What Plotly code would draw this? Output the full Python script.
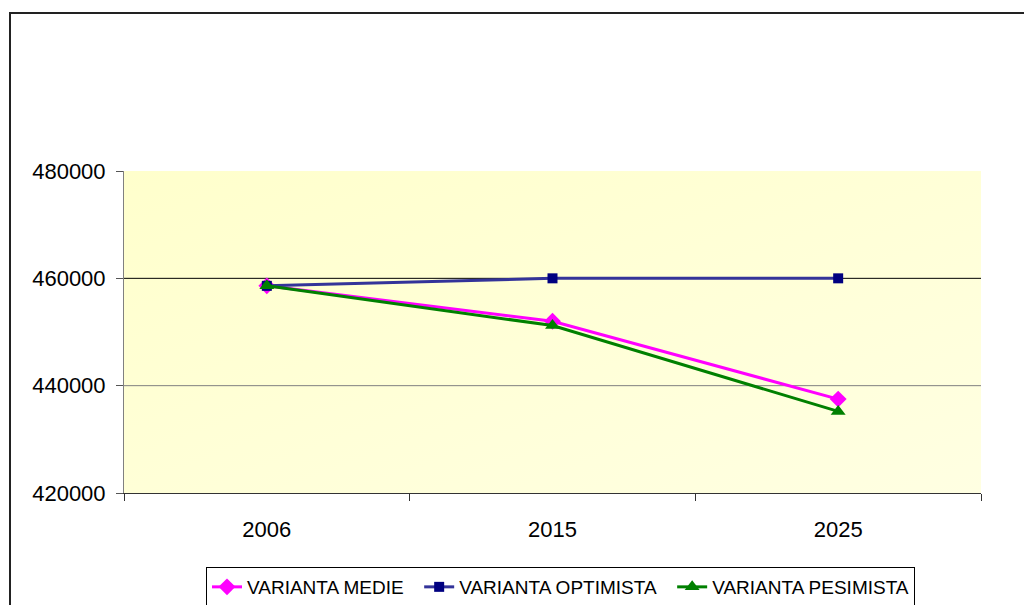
import base64
import plotly.graph_objects as go

years = ["2006", "2015", "2025"]
medie = [458600, 452000, 437500]
optimista = [458600, 460000, 460000]
pesimista = [458600, 451200, 435200]
y_ticks = [420000, 440000, 460000, 480000]
grid_values = [440000, 460000]
series_names = ["VARIANTA MEDIE", "VARIANTA OPTIMISTA", "VARIANTA PESIMISTA"]

OFF = 8  # default body margin of the html page
W, H = 1032 - OFF, 605 - OFF
L, T = 124 - OFF, 171 - OFF
R = W - (981 - OFF)
B = H - (493 - OFF)
pw, ph = W - L - R, H - T - B

def px_x(p):
    return (p - OFF - L) / pw

def px_y(q):
    return (H - B - (q - OFF)) / ph

NB = "\u00a0\u00a0"  # small padding between legend entries

fig = go.Figure()
fig.add_trace(go.Scatter(x=years, y=medie, name=series_names[0] + NB, mode="lines+markers",
                         line=dict(color="#FF00FF", width=3),
                         marker=dict(symbol="diamond", size=13, color="#FF00FF")))
fig.add_trace(go.Scatter(x=years, y=optimista, name=series_names[1] + NB, mode="lines+markers",
                         line=dict(color="#333399", width=3),
                         marker=dict(symbol="square", size=10, color="#000080")))
fig.add_trace(go.Scatter(x=years, y=pesimista, name=series_names[2], mode="lines+markers",
                         line=dict(color="#008000", width=3),
                         marker=dict(symbol="triangle-up", size=13, color="#008000")))

for g, c in zip(grid_values, ["#808080", "#000000"]):
    fig.add_shape(type="line", xref="paper", yref="y", x0=0, x1=1, y0=g, y1=g,
                  line=dict(color=c, width=1), layer="below")

# outer chart border
fig.add_shape(type="rect", xref="paper", yref="paper",
              x0=px_x(10), x1=px_x(1045), y0=px_y(640), y1=px_y(13),
              line=dict(color="#222222", width=2))

# soft yellow gradient for the plot area background
svg = ('<svg xmlns="http://www.w3.org/2000/svg" width="100" height="100" preserveAspectRatio="none">'
       '<defs><linearGradient id="g" x1="0" y1="0" x2="1" y2="1">'
       '<stop offset="0" stop-color="#FFFFCC"/><stop offset="1" stop-color="#FFFFE2"/>'
       '</linearGradient></defs><rect width="100" height="100" fill="url(#g)"/></svg>')
src = "data:image/svg+xml;base64," + base64.b64encode(svg.encode()).decode()
fig.add_layout_image(dict(source=src, xref="paper", yref="paper", x=0, y=1,
                          sizex=1, sizey=1, xanchor="left", yanchor="top",
                          sizing="stretch", layer="below"))

fig.update_layout(
    width=W, height=H,
    margin=dict(l=L, r=R, t=T, b=B, autoexpand=False),
    paper_bgcolor="white",
    plot_bgcolor="#FFFFDC",
    font=dict(family="Liberation Sans, Arial, sans-serif", color="black"),
    showlegend=True,
    legend=dict(orientation="h", x=px_x(206), xanchor="left", y=px_y(567), yanchor="top",
                bordercolor="black", borderwidth=1, bgcolor="white",
                font=dict(size=19), itemwidth=30, tracegroupgap=0),
    xaxis=dict(type="category", range=[-0.5, 2.5], tickson="boundaries",
               ticks="outside", ticklen=7, tickcolor="#333333",
               showline=True, linecolor="#333333", linewidth=1,
               showgrid=False, tickfont=dict(size=22), ticklabelstandoff=17),
    yaxis=dict(range=[420000, 480000], tickvals=y_ticks,
               ticktext=[str(v) for v in y_ticks],
               ticks="outside", ticklen=7, tickcolor="#555555",
               showline=True, linecolor="#808080", linewidth=1,
               showgrid=False, zeroline=False, tickfont=dict(size=22),
               ticklabelstandoff=6),
)

fig.write_html("out.html")
